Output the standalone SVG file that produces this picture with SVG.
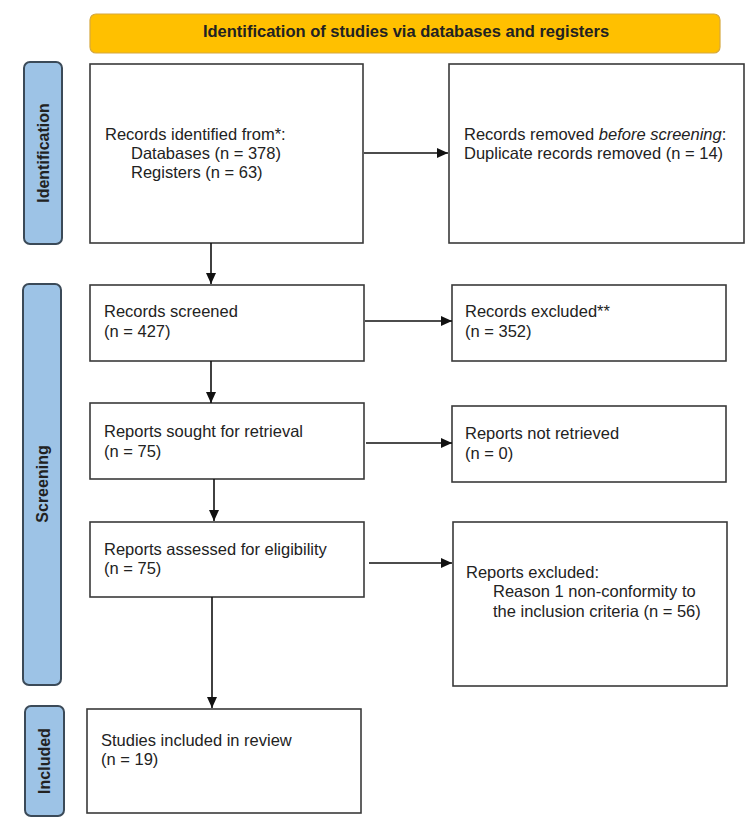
<svg xmlns="http://www.w3.org/2000/svg" width="750" height="829" viewBox="0 0 750 829">
<style>
.box{fill:#fff;stroke:#3a3a3a;stroke-width:1.6}
.t{font-family:"Liberation Sans",Arial,sans-serif;font-size:16.5px;fill:#222}
.side{fill:#9dc3e6;stroke:#3b4a58;stroke-width:2}
.st{font-family:"Liberation Sans",Arial,sans-serif;font-size:16px;font-weight:bold;fill:#222;text-anchor:middle;dominant-baseline:central}
.conn{stroke:#111;stroke-width:1.6;fill:none;marker-end:url(#ah)}
</style>
<defs>
<marker id="ah" markerUnits="userSpaceOnUse" markerWidth="12" markerHeight="10" refX="11" refY="5" orient="auto">
<path d="M0,0 L11,5 L0,10 Z" fill="#111"/>
</marker>
</defs>
<rect width="750" height="829" fill="#fff"/>
<g id="banner">
<rect x="90" y="14" width="630" height="39" rx="6" fill="#ffc000" stroke="#d6a83e" stroke-width="1.2"/>
<text x="406" y="37" class="t" style="font-weight:bold;text-anchor:middle">Identification of studies via databases and registers</text>
</g>
<g id="label-identification">
<rect x="24" y="62" width="38" height="182" rx="6" class="side"/>
<text class="st" transform="translate(43,153) rotate(-90)">Identification</text>
</g>
<g id="label-screening">
<rect x="23" y="284" width="38" height="401" rx="6" class="side"/>
<text class="st" transform="translate(42,484) rotate(-90)">Screening</text>
</g>
<g id="label-included">
<rect x="25" y="706" width="39" height="110" rx="6" class="side"/>
<text class="st" transform="translate(44.5,761) rotate(-90)">Included</text>
</g>
<g id="records-identified">
<rect x="90" y="64" width="273" height="179" class="box"/>
<text class="t" x="105" y="140">Records identified from*:</text>
<text class="t" x="131" y="159">Databases (n = 378)</text>
<text class="t" x="131" y="178">Registers (n = 63)</text>
</g>
<g id="records-removed">
<rect x="449" y="64" width="295" height="179" class="box"/>
<text class="t" x="464" y="140">Records removed <tspan font-style="italic">before screening</tspan>:</text>
<text class="t" x="464" y="159">Duplicate records removed (n = 14)</text>
</g>
<g id="records-screened">
<rect x="90" y="285" width="274" height="76" class="box"/>
<text class="t" x="104" y="317">Records screened</text>
<text class="t" x="104" y="337">(n = 427)</text>
</g>
<g id="records-excluded">
<rect x="452" y="285" width="274" height="76" class="box"/>
<text class="t" x="465" y="317">Records excluded**</text>
<text class="t" x="465" y="337">(n = 352)</text>
</g>
<g id="reports-sought">
<rect x="90" y="403" width="274" height="76" class="box"/>
<text class="t" x="104" y="437">Reports sought for retrieval</text>
<text class="t" x="104" y="457">(n = 75)</text>
</g>
<g id="reports-not-retrieved">
<rect x="452" y="406" width="274" height="76" class="box"/>
<text class="t" x="465" y="439">Reports not retrieved</text>
<text class="t" x="465" y="459">(n = 0)</text>
</g>
<g id="reports-assessed">
<rect x="90" y="522" width="274" height="75" class="box"/>
<text class="t" x="104" y="555">Reports assessed for eligibility</text>
<text class="t" x="104" y="574">(n = 75)</text>
</g>
<g id="reports-excluded">
<rect x="453" y="522" width="274" height="164" class="box"/>
<text class="t" x="466" y="578">Reports excluded:</text>
<text class="t" x="493" y="597">Reason 1 non-conformity to</text>
<text class="t" x="493" y="617">the inclusion criteria (n = 56)</text>
</g>
<g id="studies-included">
<rect x="87" y="709" width="274" height="104" class="box"/>
<text class="t" x="101" y="746">Studies included in review</text>
<text class="t" x="101" y="765">(n = 19)</text>
</g>
<g id="connectors">
<line x1="364" y1="153" x2="448" y2="153" class="conn"/>
<line x1="211" y1="243" x2="211" y2="284" class="conn"/>
<line x1="365" y1="321" x2="452" y2="321" class="conn"/>
<line x1="211" y1="361" x2="211" y2="403" class="conn"/>
<line x1="366" y1="443" x2="452" y2="443" class="conn"/>
<line x1="214" y1="479" x2="214" y2="521" class="conn"/>
<line x1="369" y1="563" x2="452" y2="563" class="conn"/>
<line x1="212" y1="597" x2="212" y2="708" class="conn"/>
</g>
</svg>
